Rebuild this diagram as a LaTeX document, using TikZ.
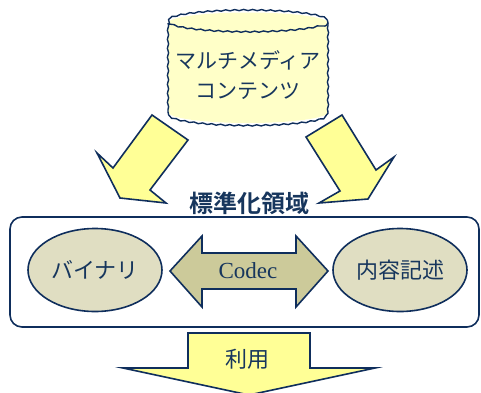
\documentclass[tikz,border=0pt]{standalone}
\usepackage{fontspec}
\setmainfont{Liberation Serif}
\newfontfamily\jpfont{Noto Sans CJK JP}
\newfontfamily\jpbold{Noto Sans CJK JP Bold}
\usetikzlibrary{decorations.pathmorphing,shapes.geometric}

\definecolor{navy}{HTML}{0F2E5C}
\definecolor{txtnavy}{HTML}{17365D}
\definecolor{paleyellow}{HTML}{FFFFC8}
\definecolor{arrowyellow}{HTML}{FFFF96}
\definecolor{beige}{HTML}{E0DEC2}
\definecolor{olive}{HTML}{CCCA9A}

\tikzset{
  outline/.style={draw=navy, line width=1.6pt, line join=miter},
  wavy/.style={decorate, decoration={snake, amplitude=0.6pt, segment length=9pt}},
  jtext/.style={font=\jpfont\fontsize{21}{30}\selectfont, text=txtnavy, align=center, inner sep=0pt},
  oval/.style={outline, fill=beige, ellipse, minimum width=134pt, minimum height=83pt, inner sep=0pt,
    font=\jpfont\fontsize{22}{26}\selectfont, text=txtnavy},
}

\begin{document}
\begin{tikzpicture}[x=1pt, y=1pt]
\useasboundingbox (0,0) rectangle (481,392);

% storage cylinder holding the content
\fill[paleyellow] (168,369) -- (168,280) arc[start angle=180, end angle=360, x radius=80, y radius=11]
  -- (328,369) -- cycle;
\fill[paleyellow] (248,369) ellipse[x radius=80, y radius=10.5];
\draw[outline, line width=1.4pt, wavy] (168,369) -- (168,280);
\draw[outline, line width=1.4pt, wavy] (328,280) -- (328,369);
\draw[outline, line width=1.4pt, wavy] (168,280) arc[start angle=180, end angle=360, x radius=80, y radius=11];
\draw[outline, line width=1.4pt, wavy] (248,369) ellipse[x radius=80, y radius=10.5];
\node[jtext] (content) at (248,317) {マルチメディア\\コンテンツ};

% two arrows into the standard area
\draw[outline, fill=arrowyellow] (152,277) -- (188,252) -- (150,202) -- (166,189)
  -- (120,194) -- (97,239) -- (113,224) -- cycle;
\draw[outline, fill=arrowyellow] (306,255) -- (342,277) -- (376,222) -- (394,235)
  -- (368,193) -- (319,189) -- (340,201) -- cycle;

\node[font=\jpbold\fontsize{24}{28}\selectfont, text=txtnavy, inner sep=0pt] (area) at (249,189) {標準化領域};

% standard area frame
\node[outline, rounded corners=12pt, minimum width=469pt, minimum height=110pt, inner sep=0pt] (frame) at (244.5,120) {};

% binary and description
\node[oval] (bin) at (95,122) {バイナリ};
\node[oval] (desc) at (400,122) {内容記述};

% codec double arrow between them
\coordinate (lt) at (170,121);
\coordinate (rt) at (328,121);
\draw[outline, fill=olive] (lt) -- (202,156) -- (202,139) -- (296,139) -- (296,156) -- (rt)
  -- (296,85) -- (296,103) -- (202,103) -- (202,85) -- cycle;
\node[font=\fontsize{23}{26}\selectfont, text=txtnavy] (codec) at (248,121) {Codec};

% output arrow
\draw[outline, fill=arrowyellow] (188,59) -- (310,59) -- (310,24) -- (375,24) -- (249,-3)
  -- (123,24) -- (188,24) -- cycle;
\node[jtext, font=\jpfont\fontsize{22}{26}\selectfont] (use) at (247,33) {利用};
\end{tikzpicture}
\end{document}
